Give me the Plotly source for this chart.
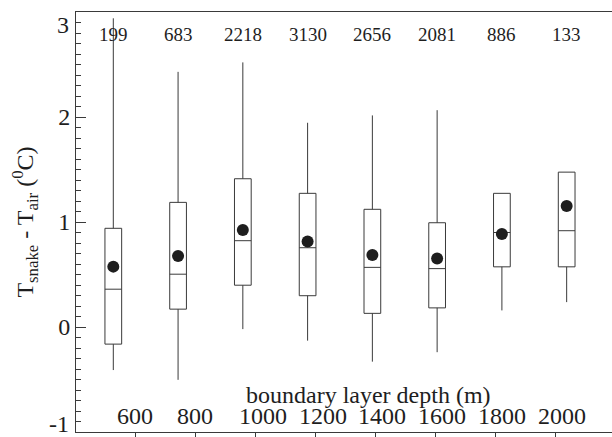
import plotly.graph_objects as go

# ---- data ----
depth_ticks = [600, 800, 1000, 1200, 1400, 1600, 1800, 2000]
bins = ["b1", "b2", "b3", "b4", "b5", "b6", "b7", "b8"]
counts = ["199", "683", "2218", "3130", "2656", "2081", "886", "133"]
upper = [2.94, 2.43, 2.52, 1.945, 2.015, 2.065, 1.273, 1.475]
q3 = [0.94, 1.187, 1.412, 1.273, 1.121, 0.993, 1.273, 1.475]
median = [0.36, 0.503, 0.822, 0.755, 0.568, 0.556, 0.90, 0.917]
q1 = [-0.163, 0.170, 0.398, 0.298, 0.130, 0.182, 0.573, 0.573]
lower = [-0.41, -0.503, -0.02, -0.13, -0.33, -0.24, 0.158, 0.237]
mean = [0.575, 0.677, 0.924, 0.815, 0.685, 0.652, 0.885, 1.152]
y_major = [-1, 0, 1, 2, 3]

FONT = "Liberation Serif"
INK = "#1e1e1e"
LINE = "#3a3a3a"

idx = list(range(len(bins)))

fig = go.Figure()
fig.add_trace(go.Box(
    x=idx, q1=q1, median=median, q3=q3, lowerfence=lower, upperfence=upper,
    xaxis="x2", yaxis="y", width=0.258, whiskerwidth=0,
    fillcolor="white", line=dict(color=LINE, width=1),
    boxpoints=False, showlegend=False, hoverinfo="skip",
))
fig.add_trace(go.Scatter(
    x=idx, y=mean, mode="markers", xaxis="x2", yaxis="y",
    marker=dict(size=12, color=INK), showlegend=False, hoverinfo="skip",
))
# empty trace so the right-hand tick axis is laid out
fig.add_trace(go.Scatter(x=[None], y=[None], xaxis="x", yaxis="y2",
                         showlegend=False, hoverinfo="skip"))

for i, c in zip(idx, counts):
    fig.add_annotation(x=i, y=2.785, xref="x2", yref="y", text=c,
                       showarrow=False, font=dict(family=FONT, size=19, color=INK))

# x tick labels sit inside the frame, just above the bottom axis
# (4-digit labels are set slightly right of their tick in the reference)
for v in depth_ticks:
    lab = str(v)
    fig.add_annotation(x=v, y=0, xref="x", yref="paper", text=lab,
                       xanchor="center", yanchor="bottom", yshift=1,
                       xshift=(len(lab) - 3) * 8 - 1,
                       showarrow=False, font=dict(family=FONT, size=24, color=INK))

# edge y labels (3 and -1 sit inside the frame in the reference)
fig.add_annotation(x=0, y=3, xref="paper", yref="y", text=str(y_major[-1]),
                   xanchor="right", yanchor="top", xshift=-5, yshift=2,
                   showarrow=False, font=dict(family=FONT, size=24, color=INK))
fig.add_annotation(x=0, y=-1, xref="paper", yref="y", text=str(y_major[0]),
                   xanchor="right", yanchor="bottom", xshift=-5, yshift=-7,
                   showarrow=False, font=dict(family=FONT, size=24, color=INK))

fig.add_annotation(x=0.5466, y=0.053, xref="paper", yref="paper",
                   text="boundary layer depth (m)", showarrow=False,
                   font=dict(family=FONT, size=24, color=INK))

fig.update_layout(
    width=612, height=437,
    margin=dict(l=76, r=0, t=12, b=5, autoexpand=False),
    paper_bgcolor="white", plot_bgcolor="white",
    xaxis=dict(range=[400, 2190], tickmode="array", tickvals=depth_ticks,
               showticklabels=False, automargin=False,
               ticks="outside", ticklen=12, tickcolor=LINE, tickwidth=1,
               showline=True, mirror=True,
               linecolor=LINE, linewidth=1, showgrid=False, zeroline=False),
    xaxis2=dict(overlaying="x", range=[-0.576, 7.70], visible=False),
    yaxis=dict(range=[-1, 3], tickmode="array", tickvals=y_major,
               ticktext=["", "0", "1", "2", ""], automargin=False,
               ticks="inside", ticklen=10, tickcolor=LINE, tickwidth=1,
               minor=dict(ticks="inside", ticklen=5, dtick=0.1, tick0=0,
                          tickcolor=LINE, tickwidth=1, showgrid=False),
               showline=True, linecolor=LINE, linewidth=1,
               showgrid=False, zeroline=False,
               tickfont=dict(family=FONT, size=24, color=INK),
               title=dict(text="T<sub>snake</sub> - T<sub>air</sub> (<sup>0</sup>C)",
                          font=dict(family=FONT, size=24, color=INK), standoff=17)),
    yaxis2=dict(overlaying="y", side="right", anchor="x", range=[-1, 3],
                tickmode="array", tickvals=y_major, showticklabels=False,
                automargin=False,
                ticks="inside", ticklen=9, tickcolor=LINE, tickwidth=1,
                minor=dict(ticks="inside", ticklen=4, dtick=0.1, tick0=0,
                           tickcolor=LINE, tickwidth=1, showgrid=False),
                showline=False, showgrid=False, zeroline=False),
)

fig.write_html("out.html")
